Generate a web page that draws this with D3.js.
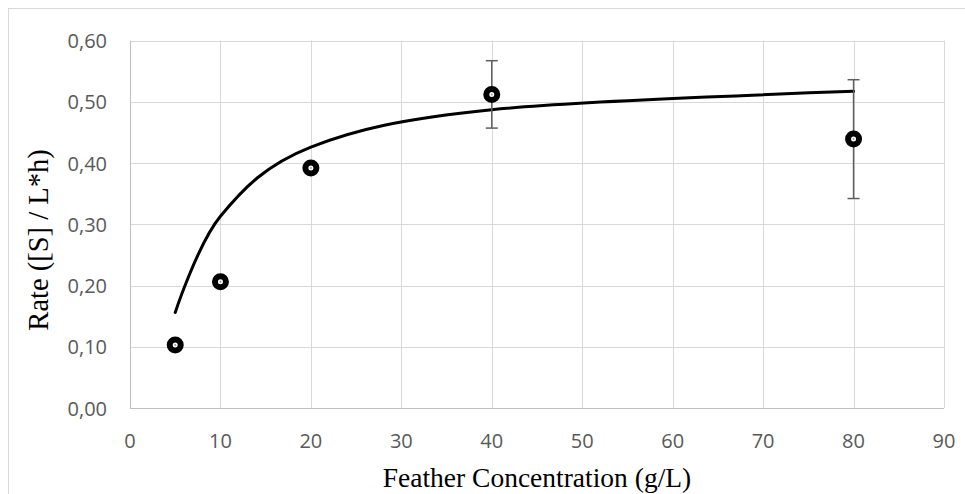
<!DOCTYPE html>
<html>
<head>
<meta charset="utf-8">
<script src="https://cdn.jsdelivr.net/npm/d3@7"></script>
<style>
  html, body { margin: 0; padding: 0; background: #fff; }
  svg { display: block; }
</style>
</head>
<body>
<svg id="chart" width="965" height="494"></svg>
<script>
// ---- data ----
const concentrations = [5, 10, 20, 40, 80];
const rates = [0.103, 0.206, 0.392, 0.512, 0.439];
const rateErrors = [0, 0, 0, 0.055, 0.097];
const fitX = [5, 10, 20, 40, 80];
const fitY = [0.156, 0.313, 0.426, 0.487, 0.517];
const xTicks = [0, 10, 20, 30, 40, 50, 60, 70, 80, 90];
const yTicks = [0, 0.1, 0.2, 0.3, 0.4, 0.5, 0.6];
const xTitle = "Feather Concentration (g/L)";
const yTitle = "Rate ([S] / L*h)";

// ---- layout ----
const svg = d3.select("#chart");
const plot = { left: 130, right: 944, top: 40.5, bottom: 408 };

const x = d3.scaleLinear().domain([0, 90]).range([plot.left, plot.right]);
const y = d3.scaleLinear().domain([0, 0.6]).range([plot.bottom, plot.top]);

// chart border
svg.append("rect")
  .attr("x", 8.5).attr("y", 8.5)
  .attr("width", 1000).attr("height", 1000)
  .attr("fill", "none").attr("stroke", "#d9d9d9").attr("stroke-width", 1);

// gridlines
const grid = svg.append("g");
grid.selectAll("line.h").data(yTicks).enter().append("line")
  .attr("x1", plot.left).attr("x2", plot.right)
  .attr("y1", d => Math.round(y(d)) + 0.5).attr("y2", d => Math.round(y(d)) + 0.5)
  .attr("stroke", d => d === 0 ? "#bfbfbf" : "#d9d9d9").attr("stroke-width", 1);
grid.selectAll("line.v").data(xTicks).enter().append("line")
  .attr("y1", plot.top).attr("y2", plot.bottom)
  .attr("x1", d => Math.round(x(d)) + 0.5).attr("x2", d => Math.round(x(d)) + 0.5)
  .attr("stroke", d => d === 0 ? "#bfbfbf" : "#d9d9d9").attr("stroke-width", 1);

// axis tick labels
const fmt = d => d.toFixed(2).replace(".", ",");
svg.append("g").selectAll("text").data(yTicks).enter().append("text")
  .attr("x", 107).attr("y", d => y(d) + 7.5)
  .attr("text-anchor", "end")
  .attr("font-family", "Open Sans, sans-serif").attr("font-size", 20)
  .attr("fill", "#595959")
  .text(fmt);
svg.append("g").selectAll("text").data(xTicks).enter().append("text")
  .attr("x", d => x(d)).attr("y", 448)
  .attr("text-anchor", "middle")
  .attr("font-family", "Open Sans, sans-serif").attr("font-size", 20)
  .attr("fill", "#595959")
  .text(d => d);

// axis titles
svg.append("text")
  .attr("x", (plot.left + plot.right) / 2).attr("y", 487)
  .attr("text-anchor", "middle")
  .attr("font-family", "Liberation Serif, Times New Roman, serif").attr("font-size", 27.5)
  .attr("fill", "#000")
  .text(xTitle);
svg.append("text")
  .attr("transform", "translate(48, 240) rotate(-90)")
  .attr("text-anchor", "middle")
  .attr("font-family", "Liberation Serif, Times New Roman, serif").attr("font-size", 28.5)
  .attr("fill", "#000")
  .text(yTitle);

// fitted curve
const fitData = fitX.map((v, i) => [v, fitY[i]]);
const line = d3.line()
  .x(d => x(d[0])).y(d => y(d[1]))
  .curve(d3.curveCardinal.tension(0));
svg.append("path")
  .datum(fitData)
  .attr("d", line)
  .attr("fill", "none").attr("stroke", "#000").attr("stroke-width", 3)
  .attr("stroke-linecap", "round");

// error bars
const pts = concentrations.map((c, i) => ({ c, r: rates[i], e: rateErrors[i] }));
const eb = svg.append("g").selectAll("g").data(pts.filter(d => d.e > 0)).enter().append("g")
  .attr("stroke", "#5f5f5f").attr("stroke-width", 1.5);
eb.append("line")
  .attr("x1", d => x(d.c)).attr("x2", d => x(d.c))
  .attr("y1", d => y(d.r + d.e)).attr("y2", d => y(d.r - d.e));
eb.append("line")
  .attr("x1", d => x(d.c) - 6).attr("x2", d => x(d.c) + 6)
  .attr("y1", d => y(d.r + d.e)).attr("y2", d => y(d.r + d.e));
eb.append("line")
  .attr("x1", d => x(d.c) - 6).attr("x2", d => x(d.c) + 6)
  .attr("y1", d => y(d.r - d.e)).attr("y2", d => y(d.r - d.e));

// markers
const mk = svg.append("g").selectAll("g").data(pts).enter().append("g")
  .attr("transform", d => `translate(${x(d.c)},${y(d.r)})`);
mk.append("circle")
  .attr("r", 5.5)
  .attr("fill", "#fff").attr("stroke", "#000").attr("stroke-width", 6);
mk.append("circle")
  .attr("r", 1).attr("fill", "#9a9a9a");
</script>
</body>
</html>
